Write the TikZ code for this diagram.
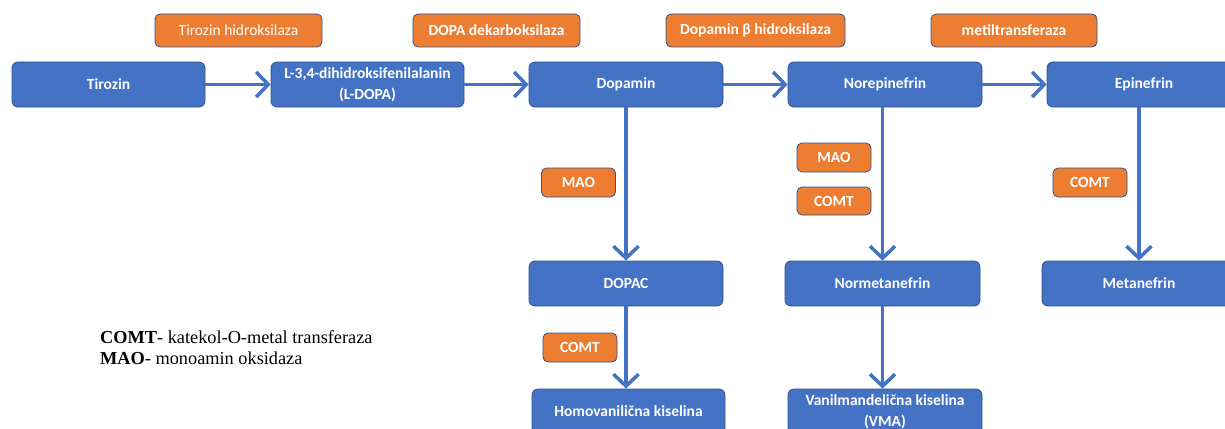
\documentclass[tikz,border=0pt]{standalone}
\usepackage{fontspec}
\setmainfont{Carlito}
\newfontfamily\legendfont{Liberation Serif}
\usetikzlibrary{arrows.meta}
\definecolor{boxblue}{HTML}{4472C4}
\definecolor{boxedge}{HTML}{2F528F}
\definecolor{enzorange}{HTML}{ED7D31}
\begin{document}
\begin{tikzpicture}[x=1pt,y=-1pt,
  compound/.style={draw=boxedge, line width=0.8pt, fill=boxblue, rounded corners=6pt,
    minimum width=193pt, minimum height=45pt, inner sep=0pt, text=white,
    font=\fontsize{15.5}{20.5}\selectfont\bfseries, align=center},
  enzyme/.style={draw=boxedge, line width=0.8pt, fill=enzorange, rounded corners=5pt,
    minimum height=33pt, inner sep=0pt, text=white,
    font=\fontsize{15.5}{19}\selectfont\bfseries, align=center},
  small/.style={enzyme, minimum width=74pt, minimum height=29pt},
  flow/.style={draw=boxblue, line width=3.5pt,
    -{Straight Barb[length=12pt,width=25pt,line width=3.5pt]}}
]
\useasboundingbox (0,0) rectangle (1225,428);

% compounds
\node[compound] (tyr) at (108.5,84.5) {Tirozin};
\node[compound] (ldopa) at (367.5,84.5) {L-3,4-dihidroksifenilalanin\\(L-DOPA)};
\node[compound, minimum width=194pt] (dop) at (626,84.5) {Dopamin};
\node[compound, minimum width=194pt] (nor) at (885,84.5) {Norepinefrin};
\node[compound, minimum width=194pt] (epi) at (1144,84.5) {Epinefrin};
\node[compound, minimum width=194pt] (dopac) at (626,283.5) {DOPAC};
\node[compound, minimum width=195pt] (normet) at (882.5,283.5) {Normetanefrin};
\node[compound, minimum width=194pt] (met) at (1139,283.5) {Metanefrin};
\node[compound] (hva) at (628.5,411.5) {Homovanilična kiselina};
\node[compound, minimum width=194pt] (vma) at (885,411.5) {Vanilmandelična kiselina\\(VMA)};

% enzymes
\node[enzyme, minimum width=167pt, font=\fontsize{15.5}{19}\selectfont] (th) at (238.5,30.5) {Tirozin hidroksilaza};
\node[enzyme, minimum width=167pt] (ddc) at (496.5,30.5) {DOPA dekarboksilaza};
\node[enzyme, minimum width=179pt] (dbh) at (755.5,30.5) {Dopamin β hidroksilaza};
\node[enzyme, minimum width=166pt] (mt) at (1014,30.5) {metiltransferaza};
\node[small] (mao1) at (578.5,182.5) {MAO};
\node[small] (mao2) at (834,157.5) {MAO};
\node[small, minimum height=28pt] (comt2) at (834,201) {COMT};
\node[small] (comt3) at (1090,182.5) {COMT};
\node[small] (comt1) at (580,347.5) {COMT};

% connectors
\draw[flow] (tyr.east) -- (ldopa.west);
\draw[flow] (ldopa.east) -- (dop.west);
\draw[flow] (dop.east) -- (nor.west);
\draw[flow] (nor.east) -- (epi.west);
\draw[flow] (dop.south -| dopac.north) -- (dopac.north);
\draw[flow] (nor.south -| normet.north) -- (normet.north);
\draw[flow] (epi.south -| met.north) -- (met.north);
\draw[flow] (dopac.south) -- (dopac.south |- hva.north);
\draw[flow] (normet.south) -- (normet.south |- vma.north);

% legend
\node[anchor=base west, inner sep=0pt, align=left,
  font=\legendfont\fontsize{18.3}{21}\selectfont] (legend) at (100,364)
  {\textbf{COMT}- katekol-O-metal transferaza\\\textbf{MAO}- monoamin oksidaza};
\end{tikzpicture}
\end{document}
